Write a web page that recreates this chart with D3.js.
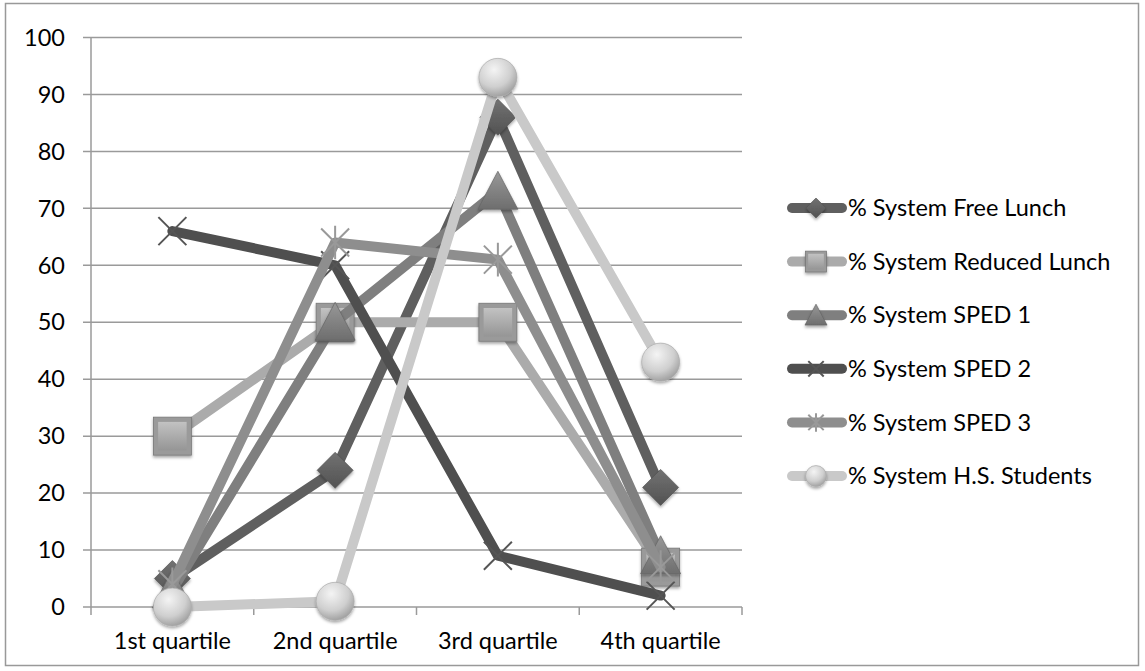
<!DOCTYPE html>
<html><head><meta charset="utf-8">
<script src="https://cdn.jsdelivr.net/npm/d3@7"></script>
<style>body{margin:0;background:#fff;}svg{display:block;}</style>
</head><body>
<svg id="c" width="1145" height="671"></svg>
<script>
const categories = ["1st quartile","2nd quartile","3rd quartile","4th quartile"];
const seriesNames = ["% System Free Lunch","% System Reduced Lunch","% System SPED 1","% System SPED 2","% System SPED 3","% System H.S. Students"];
const freeLunch = [5,24,86,21];
const reducedLunch = [30,50,50,7];
const sped1 = [3,50,73,9];
const sped2 = [66,60,9,2];
const sped3 = [4,64,61,7];
const hsStudents = [0,1,93,43];
const yTicks = [0,10,20,30,40,50,60,70,80,90,100];

(function(){
const seriesValues = [freeLunch, reducedLunch, sped1, sped2, sped3, hsStudents];
const colors = ["#5f5f5f","#ababab","#7f7f7f","#4f4f4f","#8e8e8e","#c9c9c9"];
const markers = ["diamond","square","triangle","x","star","circle"];

const svg = d3.select("#c");
const font = "Lato, 'Open Sans', sans-serif";
const fs = 23.5;
svg.append("rect").attr("x",5.5).attr("y",3.5).attr("width",1133).attr("height",662)
  .attr("fill","#fff").attr("stroke","#999").attr("stroke-width",1.5);

const defs = svg.append("defs");
colors.forEach((c,i)=>{
  const g = defs.append("linearGradient").attr("id","g"+i).attr("x1","0").attr("y1","0").attr("x2","0").attr("y2","1");
  g.append("stop").attr("offset","0").attr("stop-color", d3.color(c).brighter(0.5));
  g.append("stop").attr("offset","1").attr("stop-color", d3.color(c).darker(0.4));
});
const rg = defs.append("radialGradient").attr("id","rg").attr("cx","0.4").attr("cy","0.3").attr("r","0.75");
rg.append("stop").attr("offset","0").attr("stop-color","#f4f4f4");
rg.append("stop").attr("offset","0.6").attr("stop-color","#cfcfcf");
rg.append("stop").attr("offset","1").attr("stop-color","#9a9a9a");
const sh = defs.append("filter").attr("id","sh").attr("x","-30%").attr("y","-30%").attr("width","160%").attr("height","160%");
sh.append("feDropShadow").attr("dx",0).attr("dy",2).attr("stdDeviation",1.5).attr("flood-color","#000").attr("flood-opacity",0.35);

const pLeft = 91, pRight = 742, pTop = 37.5, pBottom = 607;
const x = d3.scaleBand().domain(categories).range([pLeft,pRight]);
const y = d3.scaleLinear().domain([0,100]).range([pBottom,pTop]);

svg.append("g").selectAll("line").data(yTicks).join("line")
  .attr("x1",pLeft-8).attr("x2",pRight).attr("y1",d=>y(d)).attr("y2",d=>y(d))
  .attr("stroke","#9a9a9a").attr("stroke-width",1.5);
svg.append("line").attr("x1",pLeft).attr("x2",pLeft).attr("y1",pTop).attr("y2",pBottom)
  .attr("stroke","#9a9a9a").attr("stroke-width",1.5);
const xb = categories.map(c=>x(c)).concat([pRight]);
svg.append("g").selectAll("line").data(xb).join("line")
  .attr("x1",d=>d).attr("x2",d=>d).attr("y1",pBottom).attr("y2",pBottom+8)
  .attr("stroke","#9a9a9a").attr("stroke-width",1.5);
svg.append("g").selectAll("text").data(yTicks).join("text")
  .attr("x",pLeft-26).attr("y",d=>y(d)).attr("dy","0.35em").attr("text-anchor","end")
  .attr("font-family",font).attr("font-size",fs).attr("fill","#000").text(d=>d);
svg.append("g").selectAll("text").data(categories).join("text")
  .attr("x",d=>x(d)+x.bandwidth()/2).attr("y",pBottom+34).attr("dy","0.35em").attr("text-anchor","middle")
  .attr("font-family",font).attr("font-size",fs).attr("fill","#000").text(d=>d);

function drawMarker(g, type, cx, cy, i, s){
  s = s || 1;
  const fill = "url(#g"+i+")";
  if(type==="diamond"){
    const r=18*s;
    g.append("path").attr("d",`M${cx},${cy-r}L${cx+r},${cy}L${cx},${cy+r}L${cx-r},${cy}Z`)
      .attr("fill",fill).attr("stroke","#555").attr("stroke-width",0.7).attr("filter","url(#sh)");
  } else if(type==="square"){
    const r=19*s;
    g.append("rect").attr("x",cx-r).attr("y",cy-r).attr("width",2*r).attr("height",2*r)
      .attr("fill","#9a9a9a").attr("stroke","#777").attr("stroke-width",0.8).attr("filter","url(#sh)");
    g.append("rect").attr("x",cx-r*0.75).attr("y",cy-r*0.75).attr("width",1.5*r).attr("height",1.5*r)
      .attr("fill",fill).attr("opacity",0.8);
  } else if(type==="triangle"){
    const r=20*s;
    g.append("path").attr("d",`M${cx},${cy-r}L${cx+r},${cy+r*0.9}L${cx-r},${cy+r*0.9}Z`)
      .attr("fill",fill).attr("stroke","#666").attr("stroke-width",0.7).attr("filter","url(#sh)");
  } else if(type==="x"){
    const r=14*s;
    g.append("path").attr("d",`M${cx-r},${cy-r}L${cx+r},${cy+r}M${cx+r},${cy-r}L${cx-r},${cy+r}`)
      .attr("stroke","#555").attr("stroke-width",2).attr("fill","none");
  } else if(type==="star"){
    const r=14*s;
    g.append("path").attr("d",`M${cx-r},${cy-r}L${cx+r},${cy+r}M${cx+r},${cy-r}L${cx-r},${cy+r}M${cx},${cy-r*1.2}L${cx},${cy+r*1.2}`)
      .attr("stroke","#999").attr("stroke-width",2).attr("fill","none");
  } else if(type==="circle"){
    g.append("circle").attr("cx",cx).attr("cy",cy).attr("r",19*s)
      .attr("fill","url(#rg)").attr("stroke","#aaa").attr("stroke-width",0.7).attr("filter","url(#sh)");
  }
}

const line = d3.line().x((d,j)=>x(categories[j])+x.bandwidth()/2).y(d=>y(d));
const plot = svg.append("g");
seriesValues.forEach((vals,i)=>{
  const g = plot.append("g");
  g.append("path").datum(vals).attr("d",line).attr("fill","none")
    .attr("stroke",colors[i]).attr("stroke-width",10).attr("stroke-linejoin","round").attr("stroke-linecap","round");
  vals.forEach((v,j)=>drawMarker(g, markers[i], x(categories[j])+x.bandwidth()/2, y(v), i));
});

const legY0 = 208, legStep = 53.6;
const leg = svg.append("g");
seriesNames.forEach((n,i)=>{
  const yy = legY0 + i*legStep;
  leg.append("line").attr("x1",792).attr("x2",842).attr("y1",yy).attr("y2",yy)
    .attr("stroke",colors[i]).attr("stroke-width",10).attr("stroke-linecap","round");
  drawMarker(leg, markers[i], 816, yy, i, 0.55);
  leg.append("text").attr("x",848).attr("y",yy).attr("dy","0.35em")
    .attr("font-family",font).attr("font-size",fs).attr("fill","#000").text(n);
});
})();
</script>
</body></html>
